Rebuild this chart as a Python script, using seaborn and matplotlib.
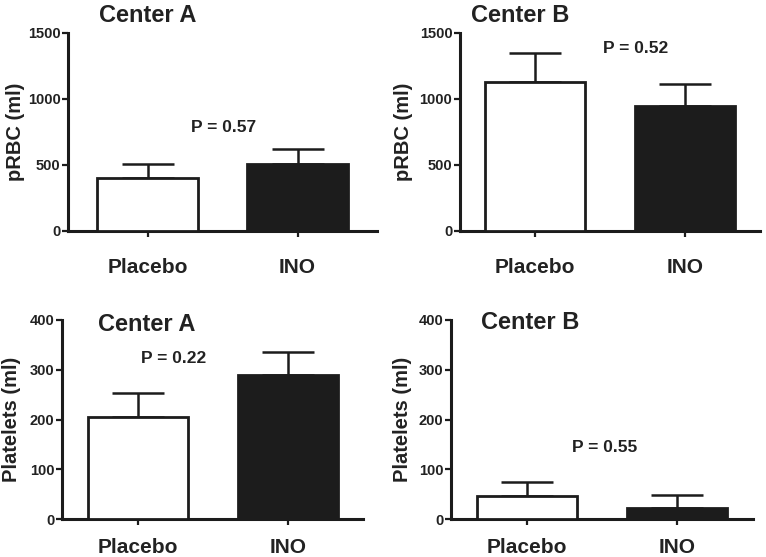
import numpy as np
import matplotlib
matplotlib.use("Agg")
import matplotlib.pyplot as plt
import seaborn as sns

groups = ["Placebo", "INO"]

prbc_a_mean = [405, 505]
prbc_a_sem = [100, 116]
prbc_b_mean = [1130, 950]
prbc_b_sem = [219, 166]
plt_a_mean = [205, 289]
plt_a_sem = [48, 47]
plt_b_mean = [46, 23]
plt_b_sem = [28, 25]

p_values = ["P = 0.57", "P = 0.52", "P = 0.22", "P = 0.55"]
titles = ["Center A", "Center B", "Center A", "Center B"]

sns.set_theme(style="ticks")
plt.rcParams["font.family"] = ["Liberation Sans", "DejaVu Sans"]
plt.rcParams["font.weight"] = "bold"
TXT = "#222222"
BAR_COLORS = ["#ffffff", "#1c1c1c"]

fig = plt.figure(figsize=(7.66, 5.57), dpi=100)

# panel setup: axes rect, data, ylabel, ymax, yticks, title pos, p-text pos, label x, xtick pad
panels = [
    dict(rect=[0.0888, 0.5853, 0.4034, 0.3555], mean=prbc_a_mean, sem=prbc_a_sem,
         ylabel="pRBC (ml)", ymax=1500, yticks=[0, 500, 1000, 1500],
         title_xy=(0.0, 1.09), p_xy=(0.51, 784), xlim=(-0.53, 1.53),
         lab_x=-0.14, pad=15),
    dict(rect=[0.6005, 0.5853, 0.3916, 0.3555], mean=prbc_b_mean, sem=prbc_b_sem,
         ylabel="pRBC (ml)", ymax=1500, yticks=[0, 500, 1000, 1500],
         title_xy=(-0.1, 1.09), p_xy=(0.67, 1379), xlim=(-0.5, 1.5),
         lab_x=-0.155, pad=15),
    dict(rect=[0.0809, 0.0682, 0.393, 0.3573], mean=plt_a_mean, sem=plt_a_sem,
         ylabel="Platelets (ml)", ymax=400, yticks=[0, 100, 200, 300, 400],
         title_xy=(0.06, 0.975), p_xy=(0.24, 322), xlim=(-0.507, 1.5),
         lab_x=-0.135, pad=9),
    dict(rect=[0.5888, 0.0682, 0.3943, 0.3573], mean=plt_b_mean, sem=plt_b_sem,
         ylabel="Platelets (ml)", ymax=400, yticks=[0, 100, 200, 300, 400],
         title_xy=(0.02, 0.985), p_xy=(0.52, 143), xlim=(-0.507, 1.507),
         lab_x=-0.13, pad=9),
]

for i, pn in enumerate(panels):
    ax = fig.add_axes(pn["rect"])
    sns.barplot(x=groups, y=pn["mean"], hue=groups, palette=BAR_COLORS,
                edgecolor="#1c1c1c", linewidth=2.0, width=0.67,
                legend=False, ax=ax, zorder=3)
    ax.errorbar(np.arange(len(groups)), pn["mean"],
                yerr=[np.zeros(len(groups)), pn["sem"]],
                fmt="none", ecolor="#1c1c1c", elinewidth=1.8,
                capsize=19, capthick=1.8, zorder=2)
    ax.set_xlim(*pn["xlim"])
    ax.set_ylim(0, pn["ymax"])
    ax.set_yticks(pn["yticks"])
    ax.set_yticklabels([str(t) for t in pn["yticks"]], fontsize=10.5,
                       fontweight="bold", color=TXT)
    ax.set_xticks(range(len(groups)))
    ax.set_xticklabels(groups, fontsize=15, fontweight="bold", color=TXT)
    ax.tick_params(axis="y", length=4.5, width=1.6, pad=1, color="#1c1c1c")
    ax.tick_params(axis="x", length=4.5, width=1.6, pad=pn["pad"], color="#1c1c1c")
    ax.set_xlabel("")
    ax.set_ylabel(pn["ylabel"], fontsize=14.5, fontweight="bold", color=TXT)
    ax.yaxis.set_label_coords(pn["lab_x"], 0.5)
    sns.despine(ax=ax)
    for s in ["left", "bottom"]:
        ax.spines[s].set_linewidth(2.2)
        ax.spines[s].set_color("#1c1c1c")
    ax.patch.set_alpha(0)
    tx, ty = pn["title_xy"]
    ax.text(tx, ty, titles[i], transform=ax.get_xaxis_transform(),
            ha="center", va="center", fontsize=17, fontweight="bold", color=TXT)
    px, py = pn["p_xy"]
    ax.text(px, py, p_values[i], ha="center", va="center",
            fontsize=12.5, fontweight="bold", color=TXT)

fig.savefig("out.png", dpi=100, facecolor="white")
